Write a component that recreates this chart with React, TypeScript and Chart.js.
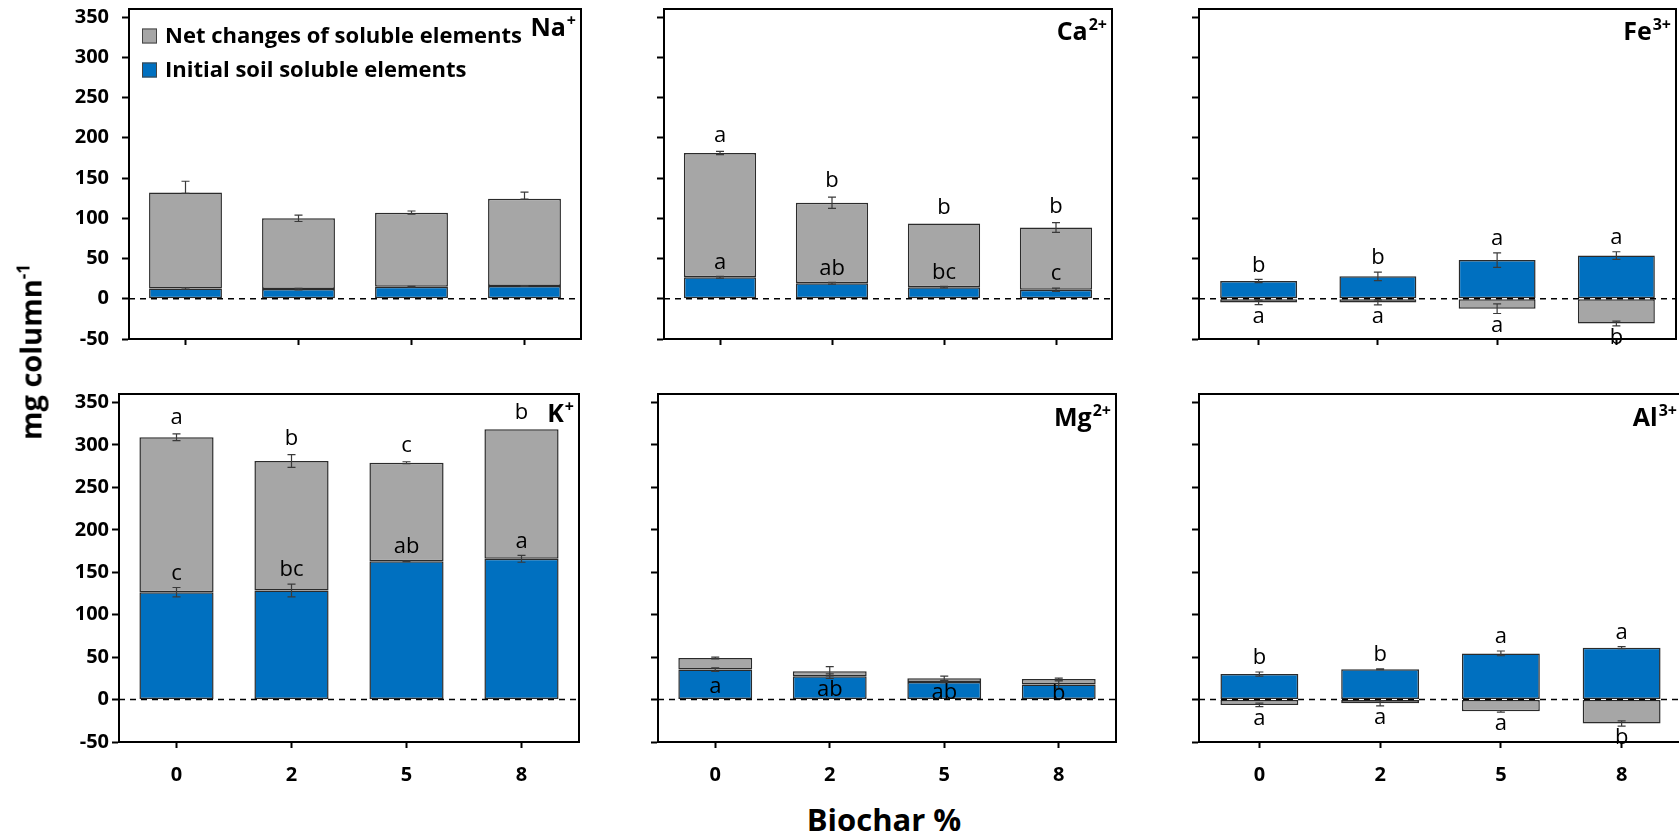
import React, { useEffect, useRef } from 'react';
import { Chart, registerables } from 'chart.js';

Chart.register(...registerables);

const FONT = '"Open Sans", sans-serif';

// ---------- data ----------
const categories = ['0', '2', '5', '8'];
const yTickValues = [-50, 0, 50, 100, 150, 200, 250, 300, 350];
const yMin = -50;
const yMax = 360;

const legendLabels = ['Net changes of soluble elements', 'Initial soil soluble elements'];
const xTitle = 'Biochar %';
const yTitleMain = 'mg column';
const yTitleSup = '-1';

type Err = number | [number, number];

// Na+
const naInitial = [12.8, 12, 15, 16];
const naNet = [119.2, 88, 92, 108.4];
const naInitialErr: Err[] = [1, 1, 0.5, 0.5];
const naNetErr: Err[] = [[1, 14], 4, 2, [0.5, 8]];
const naInitialLetters = ['', '', '', ''];
const naNetLetters = ['', '', '', ''];

// Ca2+
const caInitial = [26.7, 19.3, 14.4, 11.1];
const caNet = [154.3, 100, 79, 77.4];
const caInitialErr: Err[] = [1, 1, 1, 2];
const caNetErr: Err[] = [2, 7, 0, 6];
const caInitialLetters = ['a', 'ab', 'bc', 'c'];
const caNetLetters = ['a', 'b', 'b', 'b'];

// Fe3+
const feInitial = [22.1, 27.9, 48, 53.7];
const feNet = [-4.5, -4.5, -12.3, -30.7];
const feInitialErr: Err[] = [2, 5.3, 9, 4.7];
const feNetErr: Err[] = [2.7, 3, 6, 3];
const feInitialLetters = ['b', 'b', 'a', 'a'];
const feNetLetters = ['a', 'a', 'a', 'b'];

// K+
const kInitial = [126.5, 128.4, 163, 165.8];
const kNet = [182.5, 152.6, 116, 152.7];
const kInitialErr: Err[] = [5.5, 7.5, 0.5, 4];
const kNetErr: Err[] = [4, 7.5, 1.2, 0];
const kInitialLetters = ['c', 'bc', 'ab', 'a'];
const kNetLetters = ['a', 'b', 'c', 'b'];

// Mg2+
const mgInitial = [35.3, 27.5, 20.8, 17.6];
const mgNet = [13.7, 5.8, 4.2, 6.7];
const mgInitialErr: Err[] = [2, 2.7, 1, 4.3];
const mgNetErr: Err[] = [1, 5.5, 2.5, 1];
const mgInitialLetters = ['a', 'ab', 'ab', 'b'];
const mgNetLetters = ['', '', '', ''];

// Al3+
const alInitial = [30.1, 35.7, 54.4, 61.1];
const alNet = [-6.3, -4.4, -13.9, -28.2];
const alInitialErr: Err[] = [2.4, 0.5, 2.8, 1.2];
const alNetErr: Err[] = [2, 3, 1, 3];
const alInitialLetters = ['b', 'b', 'a', 'a'];
const alNetLetters = ['a', 'a', 'a', 'b'];

// ---------- styling / layout ----------
const BLUE = '#0070C0';
const GRAY = '#A6A6A6';
const OUTLINE = '#2b2b2b';

interface Box { l: number; t: number; r: number; b: number; }
interface PanelDef {
  ion: string; charge: string;
  initial: number[]; net: number[];
  initialErr: Err[]; netErr: Err[];
  initialLetters: string[]; netLetters: string[];
  initialInside?: boolean;
  box: Box; yAxisW: number; xAxisH: number; padT: number; padR: number;
  showY: boolean; showX: boolean; legend?: boolean; yTickPad: number; labelDy: number;
}

const TOP_T = 9, TOP_B = 339, BOT_T = 394, BOT_B = 742;

const panels: PanelDef[] = [
  { ion: 'Na', charge: '+', initial: naInitial, net: naNet, initialErr: naInitialErr, netErr: naNetErr,
    initialLetters: naInitialLetters, netLetters: naNetLetters,
    box: { l: 129, t: TOP_T, r: 581, b: TOP_B }, yAxisW: 90, xAxisH: 10, padT: 9, padR: 4,
    showY: true, showX: false, legend: true, yTickPad: 13, labelDy: 27 },
  { ion: 'Ca', charge: '2+', initial: caInitial, net: caNet, initialErr: caInitialErr, netErr: caNetErr,
    initialLetters: caInitialLetters, netLetters: caNetLetters,
    box: { l: 664, t: TOP_T, r: 1112, b: TOP_B }, yAxisW: 12, xAxisH: 10, padT: 9, padR: 4,
    showY: false, showX: false, yTickPad: 13, labelDy: 31 },
  { ion: 'Fe', charge: '3+', initial: feInitial, net: feNet, initialErr: feInitialErr, netErr: feNetErr,
    initialLetters: feInitialLetters, netLetters: feNetLetters,
    box: { l: 1199, t: TOP_T, r: 1676, b: TOP_B }, yAxisW: 12, xAxisH: 10, padT: 9, padR: 3,
    showY: false, showX: false, yTickPad: 13, labelDy: 31 },
  { ion: 'K', charge: '+', initial: kInitial, net: kNet, initialErr: kInitialErr, netErr: kNetErr,
    initialLetters: kInitialLetters, netLetters: kNetLetters,
    box: { l: 119, t: BOT_T, r: 579, b: BOT_B }, yAxisW: 80, xAxisH: 50, padT: 14, padR: 4,
    showY: true, showX: true, yTickPad: 3, labelDy: 28 },
  { ion: 'Mg', charge: '2+', initial: mgInitial, net: mgNet, initialErr: mgInitialErr, netErr: mgNetErr,
    initialLetters: mgInitialLetters, netLetters: mgNetLetters, initialInside: true,
    box: { l: 658, t: BOT_T, r: 1116, b: BOT_B }, yAxisW: 12, xAxisH: 50, padT: 14, padR: 4,
    showY: false, showX: true, yTickPad: 3, labelDy: 32 },
  { ion: 'Al', charge: '3+', initial: alInitial, net: alNet, initialErr: alInitialErr, netErr: alNetErr,
    initialLetters: alInitialLetters, netLetters: alNetLetters,
    box: { l: 1199, t: BOT_T, r: 1682, b: BOT_B }, yAxisW: 12, xAxisH: 50, padT: 14, padR: 4,
    showY: false, showX: true, yTickPad: 3, labelDy: 32 },
];

const errPair = (e: Err): [number, number] => (Array.isArray(e) ? e : [e, e]);

function makeOverlay(p: PanelDef) {
  return {
    id: 'overlay',
    afterDatasetsDraw(chart: any) {
      const ctx: CanvasRenderingContext2D = chart.ctx;
      const area = chart.chartArea;
      const ys = chart.scales.y;
      ctx.save();

      // dashed zero line
      const y0 = ys.getPixelForValue(0);
      ctx.strokeStyle = '#000';
      ctx.lineWidth = 1.5;
      ctx.setLineDash([6, 5]);
      ctx.beginPath();
      ctx.moveTo(area.left, y0);
      ctx.lineTo(area.right, y0);
      ctx.stroke();
      ctx.setLineDash([]);

      // error bars
      const drawErr = (dsIndex: number, errs: Err[]) => {
        const meta = chart.getDatasetMeta(dsIndex);
        meta.data.forEach((el: any, j: number) => {
          const [lo, hi] = errPair(errs[j]);
          if (!lo && !hi) return;
          const endVal = ys.getValueForPixel(el.y);
          const yLo = ys.getPixelForValue(endVal - lo);
          const yHi = ys.getPixelForValue(endVal + hi);
          ctx.strokeStyle = '#3a3a3a';
          ctx.lineWidth = 1.2;
          ctx.beginPath();
          ctx.moveTo(el.x, yLo); ctx.lineTo(el.x, yHi);
          ctx.moveTo(el.x - 4, yLo); ctx.lineTo(el.x + 4, yLo);
          ctx.moveTo(el.x - 4, yHi); ctx.lineTo(el.x + 4, yHi);
          ctx.stroke();
        });
      };
      drawErr(0, p.initialErr);
      drawErr(1, p.netErr);

      // significance letters
      ctx.fillStyle = '#000';
      ctx.font = `22px ${FONT}`;
      ctx.textAlign = 'center';
      ctx.textBaseline = 'middle';
      const drawLetters = (dsIndex: number, letters: string[], errs: Err[], inside: boolean, upOffset: number) => {
        const meta = chart.getDatasetMeta(dsIndex);
        meta.data.forEach((el: any, j: number) => {
          const letter = letters[j];
          if (!letter) return;
          const [lo, hi] = errPair(errs[j]);
          const endVal = ys.getValueForPixel(el.y);
          const neg = el.y > el.base;
          let y: number;
          if (inside) y = (el.y + el.base) / 2 + 2;
          else if (neg) y = ys.getPixelForValue(endVal - lo) + 12;
          else y = ys.getPixelForValue(endVal + hi) - upOffset;
          ctx.fillText(letter, el.x, y);
        });
      };
      drawLetters(0, p.initialLetters, p.initialErr, !!p.initialInside, 14);
      drawLetters(1, p.netLetters, p.netErr, false, 16);

      // box border (top & right)
      ctx.strokeStyle = '#000';
      ctx.lineWidth = 2;
      ctx.beginPath();
      ctx.moveTo(area.left, area.top);
      ctx.lineTo(area.right, area.top);
      ctx.lineTo(area.right, area.bottom);
      ctx.stroke();

      // panel ion label with superscript
      const right = area.right - 5;
      const base = area.top + p.labelDy;
      ctx.textBaseline = 'alphabetic';
      ctx.textAlign = 'left';
      ctx.font = `bold 16px ${FONT}`;
      const supW = ctx.measureText(p.charge).width;
      ctx.font = `bold 25px ${FONT}`;
      const mainW = ctx.measureText(p.ion).width;
      ctx.fillText(p.ion, right - supW - mainW - 1, base);
      ctx.font = `bold 16px ${FONT}`;
      ctx.fillText(p.charge, right - supW, base - 10);

      // legend
      if (p.legend) {
        const colors = [GRAY, BLUE];
        ctx.font = `bold 22px ${FONT}`;
        ctx.textBaseline = 'middle';
        legendLabels.forEach((txt, i) => {
          const cy = area.top + 27 + i * 34;
          const sx = area.left + 13;
          ctx.fillStyle = colors[i];
          ctx.fillRect(sx, cy - 7.5, 15, 15);
          ctx.strokeStyle = '#444';
          ctx.lineWidth = 1;
          ctx.strokeRect(sx + 0.5, cy - 7, 14, 14);
          ctx.fillStyle = '#000';
          ctx.fillText(txt, sx + 23, cy + 1);
        });
      }
      ctx.restore();
    },
  };
}

function Panel({ p }: { p: PanelDef }) {
  const ref = useRef<HTMLCanvasElement | null>(null);
  const width = p.box.r - p.box.l + p.yAxisW + p.padR;
  const height = p.box.b - p.box.t + p.padT + p.xAxisH;
  useEffect(() => {
    if (!ref.current) return;
    const chart = new Chart(ref.current, {
      type: 'bar',
      data: {
        labels: categories,
        datasets: [
          { label: legendLabels[1], data: p.initial, backgroundColor: BLUE, borderColor: OUTLINE, borderWidth: 1.5, borderSkipped: false,
            barPercentage: 0.645, categoryPercentage: 1 },
          { label: legendLabels[0], data: p.net, backgroundColor: GRAY, borderColor: OUTLINE, borderWidth: 1.5, borderSkipped: false,
            barPercentage: 0.645, categoryPercentage: 1 },
        ],
      },
      options: {
        animation: false,
        responsive: false,
        maintainAspectRatio: false,
        events: [],
        layout: { padding: { top: p.padT, right: p.padR, left: 0, bottom: 0 } },
        plugins: { legend: { display: false }, tooltip: { enabled: false }, title: { display: false } },
        scales: {
          x: {
            stacked: true,
            offset: true,
            grid: { display: true, drawOnChartArea: false, drawTicks: true, tickLength: 6, tickWidth: 2, tickColor: '#000', offset: false },
            border: { display: true, color: '#000', width: 2 },
            ticks: { display: p.showX, color: '#000', padding: 15, font: { family: FONT, size: 20, weight: 'bold' } },
            afterFit: (s: any) => { s.height = p.xAxisH; s.paddingLeft = 0; s.paddingRight = 0; },
          },
          y: {
            stacked: true,
            min: yMin,
            max: yMax,
            grid: { display: true, drawOnChartArea: false, drawTicks: true, tickLength: 7, tickWidth: 2, tickColor: '#000' },
            border: { display: true, color: '#000', width: 2 },
            ticks: { display: p.showY, color: '#000', padding: p.yTickPad, font: { family: FONT, size: 20, weight: 'bold' } },
            afterBuildTicks: (s: any) => { s.ticks = yTickValues.map((v) => ({ value: v })); },
            afterFit: (s: any) => { s.width = p.yAxisW; s.paddingTop = 0; s.paddingBottom = 0; },
          },
        },
      } as any,
      plugins: [makeOverlay(p)],
    });
    return () => chart.destroy();
  }, []);
  return (
    <canvas
      ref={ref}
      width={width}
      height={height}
      style={{ position: 'absolute', left: p.box.l - p.yAxisW, top: p.box.t - p.padT, width, height }}
    />
  );
}

export default function App() {
  return (
    <div style={{ position: 'absolute', left: 0, top: 0, width: 1679, height: 838, overflow: 'hidden', background: '#fff', fontFamily: FONT }}>
      {panels.map((p, i) => <Panel key={i} p={p} />)}
      <div
        style={{
          position: 'absolute', left: 30, top: 352, transform: 'translate(-50%, -50%) rotate(-90deg)',
          whiteSpace: 'nowrap', fontWeight: 'bold', fontSize: 29, color: '#000', lineHeight: 1,
        }}
      >
        {yTitleMain}
        <span style={{ fontSize: 17, position: 'relative', top: -12 }}>{yTitleSup}</span>
      </div>
      <div
        style={{
          position: 'absolute', left: 884, top: 819, transform: 'translate(-50%, -50%)',
          whiteSpace: 'nowrap', fontWeight: 'bold', fontSize: 31, color: '#000', lineHeight: 1,
        }}
      >
        {xTitle}
      </div>
    </div>
  );
}
